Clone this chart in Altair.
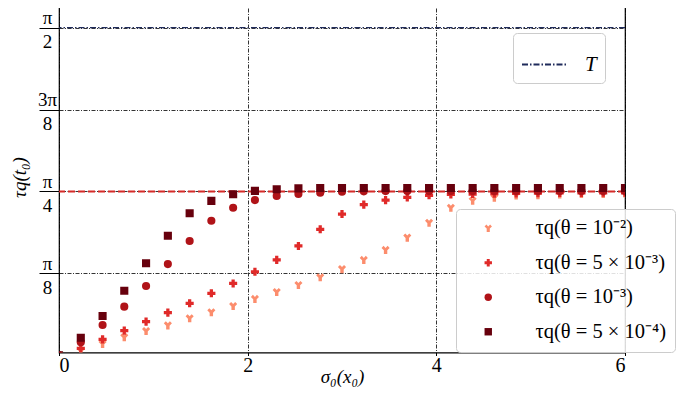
import math
import altair as alt
import pandas as pd

# ---------------- data ----------------
sigma0 = [0.0, 0.231, 0.462, 0.692, 0.923, 1.154, 1.385, 1.615, 1.846,
          2.077, 2.308, 2.538, 2.769, 3.0, 3.231, 3.462, 3.692, 3.923,
          4.154, 4.385, 4.615, 4.846, 5.077, 5.308, 5.538, 5.769, 6.0]

tau_theta_1e_2 = [0.0, 0.020, 0.054, 0.086, 0.116, 0.143, 0.177, 0.206, 0.236,
                  0.270, 0.303, 0.337, 0.374, 0.413, 0.457, 0.505, 0.564, 0.635,
                  0.707, 0.741, 0.755, 0.766, 0.768, 0.771, 0.773, 0.773, 0.776]
tau_theta_5e_3 = [0.0, 0.033, 0.076, 0.118, 0.161, 0.204, 0.249, 0.297, 0.344,
                  0.400, 0.457, 0.524, 0.604, 0.677, 0.722, 0.744, 0.757, 0.767,
                  0.771, 0.773, 0.775, 0.776, 0.777, 0.778, 0.778, 0.779, 0.779]
tau_theta_1e_3 = [0.0, 0.062, 0.145, 0.233, 0.332, 0.437, 0.548, 0.645, 0.707,
                  0.744, 0.764, 0.773, 0.779, 0.784, 0.786, 0.787, 0.787, 0.787,
                  0.787, 0.787, 0.787, 0.787, 0.787, 0.787, 0.787, 0.787, 0.787]
tau_theta_5e_4 = [0.0, 0.084, 0.188, 0.309, 0.441, 0.573, 0.681, 0.740, 0.772,
                  0.788, 0.796, 0.800, 0.802, 0.802, 0.802, 0.802, 0.802, 0.802,
                  0.802, 0.802, 0.802, 0.802, 0.802, 0.802, 0.802, 0.802, 0.802]

series_names = ["τq(θ = 10⁻²)", "τq(θ = 5 × 10⁻³)", "τq(θ = 10⁻³)", "τq(θ = 5 × 10⁻⁴)"]
series_values = [tau_theta_1e_2, tau_theta_5e_3, tau_theta_1e_3, tau_theta_5e_4]
series_colors = ["#fc8d6d", "#e02a29", "#b01318", "#67000d"]
Y_SHAPE = "M-1,-0.5 L-0.5,-1 L0,-0.5 L0.5,-1 L1,-0.5 L0.42,0.1 L0.42,1 L-0.42,1 L-0.42,0.1 Z"
series_shapes = [Y_SHAPE, "cross", "circle", "square"]

x_ticks = [0, 2, 4, 6]
y_ticks = [math.pi / 8, math.pi / 4, 3 * math.pi / 8, math.pi / 2]
T_level = math.pi / 2
limit_level = math.pi / 4

rows = []
for name, vals in zip(series_names, series_values):
    for s, t in zip(sigma0, vals):
        rows.append({"sigma0": s, "tau": t, "series": name})
df = pd.DataFrame(rows)
df_T = pd.DataFrame({"y": [T_level], "name": ["T"]})

FONT = "Liberation Serif"
GRID_DASH = [4, 1.5, 1, 1.5]

x_scale = alt.Scale(domain=[0, 6], nice=False, zero=False)
y_scale = alt.Scale(domain=[0.013, 1.7036], nice=False, zero=False)

x_enc = alt.X(
    "sigma0:Q", scale=x_scale,
    axis=alt.Axis(values=x_ticks, title="σ₀(x₀)", grid=True, gridColor="black",
                  gridDash=GRID_DASH, gridWidth=0.8, gridOpacity=1,
                  domain=False, ticks=True, tickSize=3, tickColor="black",
                  labelFont=FONT, labelFontSize=20, labelColor="black", labelPadding=0,
                  titleFont=FONT, titleFontSize=19, titleFontStyle="italic",
                  titleFontWeight="normal", titleColor="black",
                  titleBaseline="middle", titleY=24),
)
y_enc = alt.Y(
    "tau:Q", scale=y_scale,
    axis=alt.Axis(values=y_ticks, title="τq(t₀)", grid=True, gridColor="black",
                  gridDash=GRID_DASH, gridWidth=0.8, gridOpacity=1,
                  domain=False, ticks=True, tickSize=20, tickColor="black", tickWidth=1,
                  labelExpr="datum.value < 0.5 ? ['π','8'] : datum.value < 1.0 ? ['π','4'] : datum.value < 1.3 ? ['3π','8'] : ['π','2']",
                  labelFont=FONT, labelFontSize=19, labelColor="black",
                  labelLineHeight=24, labelAlign="center", labelBaseline="middle",
                  labelPadding=-8, labelOffset=-10,
                  titleFont=FONT, titleFontSize=19, titleFontStyle="italic",
                  titleFontWeight="normal", titleColor="black",
                  titleAngle=-90, titleAlign="center", titleBaseline="middle",
                  titleX=-40, titleY=177),
)

series_legend = alt.Legend(
    orient="none", legendX=397, legendY=209, title=None,
    fillColor="rgba(255,255,255,0.85)", strokeColor="#cccccc", cornerRadius=4,
    padding=9, symbolOffset=13, labelOffset=37, rowPadding=13.5,
    labelFont=FONT, labelFontSize=20.5, labelColor="black", labelLimit=400,
    symbolSize=55, symbolStrokeWidth=0,
)

points = alt.Chart(df).mark_point(filled=True, opacity=1, size=66, clip=True).encode(
    x=x_enc,
    y=y_enc,
    color=alt.Color("series:N", scale=alt.Scale(domain=series_names, range=series_colors),
                    legend=series_legend, sort=series_names),
    shape=alt.Shape("series:N", scale=alt.Scale(domain=series_names, range=series_shapes),
                    legend=series_legend, sort=series_names),
    order=alt.Order("series_idx:Q"),
).transform_calculate(
    series_idx="indexof(" + str(series_names).replace("'", '"') + ", datum.series)"
)

limit_line = alt.Chart(df_T).mark_rule(color="#d62a28", strokeDash=[7, 3], strokeWidth=1.9).encode(
    y=alt.datum(limit_level, scale=y_scale)
)

T_line = alt.Chart(df_T).mark_rule(color="#1f2b5b", strokeWidth=1.3).encode(
    y=alt.Y("y:Q", scale=y_scale),
    strokeDash=alt.StrokeDash(
        "name:N", scale=alt.Scale(domain=["T"], range=[[6, 2, 1.5, 2]]),
        legend=alt.Legend(orient="none", legendX=454, legendY=33, title=None,
                          fillColor="white", strokeColor="#cccccc", cornerRadius=4,
                          padding=8, labelOffset=17, symbolType="stroke", symbolSize=2025,
                          symbolStrokeWidth=2, symbolStrokeColor="#1f2b5b",
                          labelFont=FONT, labelFontSize=21, labelFontStyle="italic",
                          labelColor="black"),
    ),
)

chart = alt.layer(limit_line, T_line, points).properties(
    width=566, height=352.5,
    padding={"left": 51, "top": -8, "right": 52, "bottom": 34},
    autosize=alt.AutoSizeParams(type="none"),
).configure_view(stroke="black", strokeWidth=1.2)

chart.save("out.html", embed_options={"renderer": "svg", "actions": False})
